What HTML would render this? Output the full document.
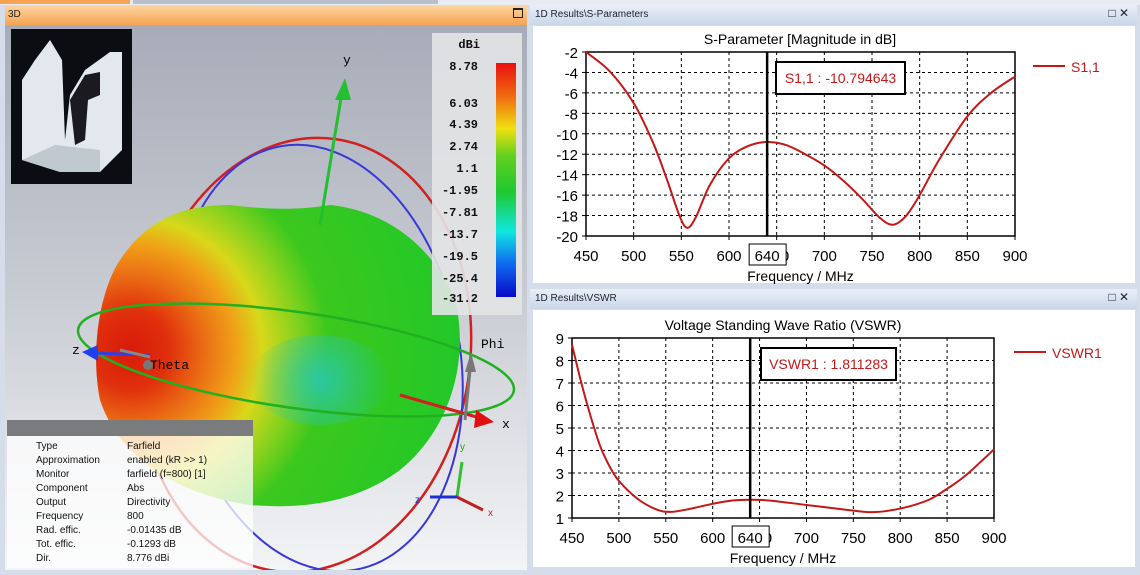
<!DOCTYPE html>
<html><head><meta charset="utf-8"><style>
*{margin:0;padding:0}
body{width:1140px;height:575px;overflow:hidden;background:#d4dde9;font-family:"Liberation Sans",sans-serif;position:relative}
.abs{position:absolute}
.hdrL{left:5px;top:5px;width:522px;height:20px;background:linear-gradient(#fdd6a4,#f6a452);font-size:10px;color:#222}
.hdrR{height:20px;background:linear-gradient(#e9eff7,#c9d7e9);font-size:10px;color:#223;left:530px;width:607px}
.info td{padding:0;height:14px;font-size:10px;color:#111}
</style></head><body>
<div class="abs" style="left:0;top:0;width:1140px;height:5px;background:#e8ecf2"></div>
<div class="abs" style="left:0;top:0;width:130px;height:4px;background:#f7a452"></div>
<div class="abs" style="left:133px;top:0;width:305px;height:4px;background:#b8c0cc"></div>
<div class="abs hdrL"><span style="position:absolute;left:3px;top:4px">3D</span><span style="position:absolute;right:4px;top:3px;width:8px;height:7px;border:1px solid #222;border-top-width:2px"></span></div>
<div class="abs" style="left:5px;top:25px;width:522px;height:545px;overflow:hidden">
<svg width="522" height="545" viewBox="5 25 522 545" xmlns="http://www.w3.org/2000/svg">
<defs>
<linearGradient id="bg" x1="0" y1="0" x2="0" y2="1"><stop offset="0" stop-color="#a7acb8"/><stop offset="0.5" stop-color="#c9ccd3"/><stop offset="1" stop-color="#f3f4f6"/></linearGradient>
<radialGradient id="blob" cx="130" cy="350" r="330" gradientUnits="userSpaceOnUse">
<stop offset="0" stop-color="#d81a0a"/><stop offset="0.12" stop-color="#e0300c"/><stop offset="0.22" stop-color="#ea6a14"/><stop offset="0.32" stop-color="#f0a018"/><stop offset="0.4" stop-color="#d8d81a"/><stop offset="0.5" stop-color="#8ad21e"/><stop offset="0.6" stop-color="#3cc81e"/><stop offset="1" stop-color="#22c828"/></radialGradient>
<radialGradient id="cy" cx="320" cy="380" r="70" gradientUnits="userSpaceOnUse"><stop offset="0" stop-color="#28c8b0" stop-opacity="0.9"/><stop offset="1" stop-color="#28c8b0" stop-opacity="0"/></radialGradient>
<linearGradient id="cb" x1="0" y1="0" x2="0" y2="1"><stop offset="0" stop-color="#e81010"/><stop offset="0.15" stop-color="#f07010"/><stop offset="0.28" stop-color="#f0e010"/><stop offset="0.4" stop-color="#60d020"/><stop offset="0.55" stop-color="#20c830"/><stop offset="0.72" stop-color="#10e8e0"/><stop offset="0.85" stop-color="#1070f0"/><stop offset="1" stop-color="#0808c8"/></linearGradient>
</defs>
<rect x="5" y="25" width="522" height="545" fill="url(#bg)"/>
<ellipse cx="305" cy="355" rx="165" ry="218" fill="none" stroke="#d02020" stroke-width="2.5" transform="rotate(8 305 355)"/>
<ellipse cx="318" cy="358" rx="142" ry="215" fill="none" stroke="#3838d8" stroke-width="2" transform="rotate(-10 318 358)"/>
<path d="M120 260 C150 215 190 205 230 205 C270 210 300 210 330 205 C380 210 430 240 455 300 C470 360 450 430 400 470 C360 500 310 510 250 505 C180 495 120 460 100 400 C90 350 100 290 120 260 Z" fill="url(#blob)"/>
<ellipse cx="320" cy="380" rx="70" ry="45" fill="url(#cy)"/>
<ellipse cx="296" cy="360" rx="220" ry="48" fill="none" stroke="#20b020" stroke-width="2.5" transform="rotate(8 296 360)"/>
<line x1="320" y1="225" x2="342" y2="92" stroke="#22c030" stroke-width="3"/><polygon points="345,78 335,100 351,100" fill="#22c030"/>
<line x1="400" y1="395" x2="480" y2="418" stroke="#d02020" stroke-width="3"/><polygon points="494,422 476,410 474,428" fill="#e01010"/>
<line x1="150" y1="355" x2="95" y2="353" stroke="#3040e0" stroke-width="3"/><polygon points="82,352 98,345 98,361" fill="#2040f0"/>
<line x1="150" y1="357" x2="120" y2="350" stroke="#888" stroke-width="3"/><circle cx="148" cy="365" r="5" fill="#777"/>
<line x1="465" y1="420" x2="470" y2="370" stroke="#777" stroke-width="3"/><polygon points="471,352 465,372 476,372" fill="#777"/>
<text x="343" y="64" font-family="Liberation Mono,monospace" font-size="13">y</text>
<text x="72" y="354" font-family="Liberation Mono,monospace" font-size="13">z</text>
<text x="150" y="369" font-family="Liberation Mono,monospace" font-size="13">Theta</text>
<text x="481" y="348" font-family="Liberation Mono,monospace" font-size="13">Phi</text>
<text x="502" y="428" font-family="Liberation Mono,monospace" font-size="13">x</text>
<line x1="457" y1="497" x2="462" y2="462" stroke="#30c030" stroke-width="3"/><line x1="457" y1="497" x2="430" y2="497" stroke="#2030d0" stroke-width="3"/><line x1="457" y1="497" x2="483" y2="510" stroke="#c02020" stroke-width="3"/>
<text x="460" y="450" font-size="10" fill="#20a020">y</text><text x="415" y="503" font-size="10" fill="#2030d0">z</text><text x="488" y="516" font-size="10" fill="#d02020">x</text>
<rect x="11" y="29" width="121" height="155" fill="#0c0d12"/>
<path d="M22 80 L35 60 L50 40 L62 60 L65 140 L70 95 L85 70 L110 52 L122 52 L122 150 L100 172 L60 172 L22 160 Z" fill="#e2e8ee"/>
<path d="M70 100 L85 75 L100 72 L100 95 L88 100 L85 140 L75 145 Z" fill="#1a1a20"/>
<path d="M22 160 L60 172 L100 172 L100 150 L55 145 Z" fill="#c0c8d0"/>
<rect x="7" y="420" width="246" height="16" fill="#7a7b7d"/>
<rect x="7" y="436" width="246" height="132" fill="#ffffff" fill-opacity="0.75"/>
<rect x="432" y="33" width="90" height="282" fill="#e3e4e6" fill-opacity="0.9"/>
<rect x="496" y="63" width="20" height="234" fill="url(#cb)"/>
<g font-family="Liberation Mono,monospace" font-size="12" font-weight="bold" text-anchor="end" fill="#111">
<text x="480" y="48">dBi</text><text x="478" y="70">8.78</text><text x="478" y="107">6.03</text><text x="478" y="128">4.39</text><text x="478" y="150">2.74</text><text x="478" y="172">1.1</text><text x="478" y="194">-1.95</text><text x="478" y="216">-7.81</text><text x="478" y="238">-13.7</text><text x="478" y="260">-19.5</text><text x="478" y="282">-25.4</text><text x="478" y="302">-31.2</text></g>
</svg>
<table class="info abs" style="left:31px;top:414px;border-collapse:collapse">
<tr><td style="width:91px">Type</td><td>Farfield</td></tr>
<tr><td>Approximation</td><td>enabled (kR &gt;&gt; 1)</td></tr>
<tr><td>Monitor</td><td>farfield (f=800) [1]</td></tr>
<tr><td>Component</td><td>Abs</td></tr>
<tr><td>Output</td><td>Directivity</td></tr>
<tr><td>Frequency</td><td>800</td></tr>
<tr><td>Rad. effic.</td><td>-0.01435 dB</td></tr>
<tr><td>Tot. effic.</td><td>-0.1293 dB</td></tr>
<tr><td>Dir.</td><td>8.776 dBi</td></tr>
</table>
</div>
<div class="abs hdrR" style="top:5px"><span style="position:absolute;left:5px;top:4px">1D Results\S-Parameters</span><span style="position:absolute;right:8px;top:1px;font-size:12px">&#9633; ✕</span></div>
<div class="abs" style="left:533px;top:26px;width:602px;height:257px;background:#fff"></div>
<div class="abs hdrR" style="top:289px"><span style="position:absolute;left:5px;top:4px">1D Results\VSWR</span><span style="position:absolute;right:8px;top:1px;font-size:12px">&#9633; ✕</span></div>
<div class="abs" style="left:533px;top:310px;width:602px;height:257px;background:#fff"></div>
<svg class="abs" style="left:0;top:0" width="1140" height="575" xmlns="http://www.w3.org/2000/svg" id="ch"></svg>
<script>
var svg=document.getElementById('ch'),h='';
function chart(o){
 var X=function(f){return o.x0+(f-450)/450*(o.x1-o.x0)},Y=function(v){return o.y0+(o.ymax-v)/(o.ymax-o.ymin)*(o.y1-o.y0)};
 for(var f=500;f<900;f+=50)h+='<line x1="'+X(f)+'" y1="'+o.y0+'" x2="'+X(f)+'" y2="'+o.y1+'" stroke="#000" stroke-dasharray="3,3"/>';
 o.yt.forEach(function(v){var y=Y(v);if(v!=o.ymax&&v!=o.ymin)h+='<line x1="'+o.x0+'" y1="'+y+'" x2="'+o.x1+'" y2="'+y+'" stroke="#000" stroke-dasharray="3,3"/>';
  h+='<line x1="'+(o.x0-4)+'" y1="'+y+'" x2="'+o.x0+'" y2="'+y+'" stroke="#000"/><text x="'+(o.x0-8)+'" y="'+(y+6)+'" text-anchor="end" font-size="15">'+v+'</text>';});
 for(f=450;f<=900;f+=50){h+='<line x1="'+X(f)+'" y1="'+o.y1+'" x2="'+X(f)+'" y2="'+(o.y1+4)+'" stroke="#000"/>';
  h+='<text x="'+X(f)+'" y="'+(o.y1+25)+'" text-anchor="middle" font-size="15">'+f+'</text>';}
 h+='<rect x="'+o.x0+'" y="'+o.y0+'" width="'+(o.x1-o.x0)+'" height="'+(o.y1-o.y0)+'" fill="none" stroke="#000" stroke-width="1.5"/>';
 var p=o.d.map(function(a){return [X(a[0]),Y(a[1])]}),d='M'+p[0];
 for(var i=0;i<p.length-1;i++){var a=p[i-1]||p[i],b=p[i],c=p[i+1],e=p[i+2]||c;
  d+=' C'+(b[0]+(c[0]-a[0])/6)+','+(b[1]+(c[1]-a[1])/6)+' '+(c[0]-(e[0]-b[0])/6)+','+(c[1]-(e[1]-b[1])/6)+' '+c;}
 h+='<path d="'+d+'" fill="none" stroke="#c41818" stroke-width="2"/>';
 var mx=X(640);h+='<line x1="'+mx+'" y1="'+o.y0+'" x2="'+mx+'" y2="'+o.y1+'" stroke="#000" stroke-width="2.5"/>';
 h+='<rect x="'+o.bx[0]+'" y="'+o.bx[1]+'" width="'+o.bx[2]+'" height="'+o.bx[3]+'" fill="#fff" stroke="#000" stroke-width="2"/>';
 h+='<text x="'+(o.bx[0]+o.bx[2]/2)+'" y="'+(o.bx[1]+21)+'" text-anchor="middle" font-size="14" fill="#c41818">'+o.lab+'</text>';
 h+='<rect x="'+(mx-18)+'" y="'+(o.y1+8)+'" width="37" height="21" fill="#fff" stroke="#000"/><text x="'+mx+'" y="'+(o.y1+25)+'" text-anchor="middle" font-size="15">640</text>';
 h+='<text x="'+o.tx+'" y="'+(o.y0-8)+'" text-anchor="middle" font-size="14">'+o.title+'</text>';
 h+='<text x="'+((o.x0+o.x1)/2)+'" y="'+(o.y1+45)+'" text-anchor="middle" font-size="14">Frequency / MHz</text>';
 h+='<line x1="'+o.lg[0]+'" y1="'+o.lg[1]+'" x2="'+(o.lg[0]+32)+'" y2="'+o.lg[1]+'" stroke="#c41818" stroke-width="2"/><text x="'+(o.lg[0]+38)+'" y="'+(o.lg[1]+6)+'" font-size="14" fill="#c41818">'+o.ln+'</text>';
}
chart({x0:586,x1:1015,y0:52,y1:236,ymax:-2,ymin:-20,yt:[-2,-4,-6,-8,-10,-12,-14,-16,-18,-20],
 d:[[450,-2],[475,-3.9],[500,-7],[520,-10.8],[535,-14.5],[548,-18],[556,-19.2],[565,-18.2],[580,-15],[600,-12.4],[620,-11.2],[640,-10.8],[660,-11.1],[680,-12],[700,-13.1],[720,-14.6],[740,-16.4],[758,-18.2],[772,-18.9],[786,-18],[800,-16],[820,-12.6],[850,-8.3],[875,-6],[900,-4.4]],
 bx:[776,62,129,32],lab:'S1,1 : -10.794643',title:'S-Parameter [Magnitude in dB]',tx:800,lg:[1033,66],ln:'S1,1'});
chart({x0:572,x1:994,y0:338,y1:518,ymax:9,ymin:1,yt:[9,8,7,6,5,4,3,2,1],
 d:[[450,8.7],[460,7],[470,5.5],[480,4.2],[490,3.3],[500,2.65],[520,1.85],[540,1.38],[555,1.27],[575,1.4],[600,1.63],[620,1.77],[640,1.81],[660,1.78],[700,1.58],[740,1.38],[770,1.26],[800,1.42],[830,1.8],[850,2.3],[870,2.9],[900,4.05]],
 bx:[761,348,135,32],lab:'VSWR1 : 1.811283',title:'Voltage Standing Wave Ratio (VSWR)',tx:783,lg:[1014,352],ln:'VSWR1'});
svg.innerHTML='<g font-family="Liberation Sans,sans-serif">'+h+'</g>';
</script>
</body></html>
